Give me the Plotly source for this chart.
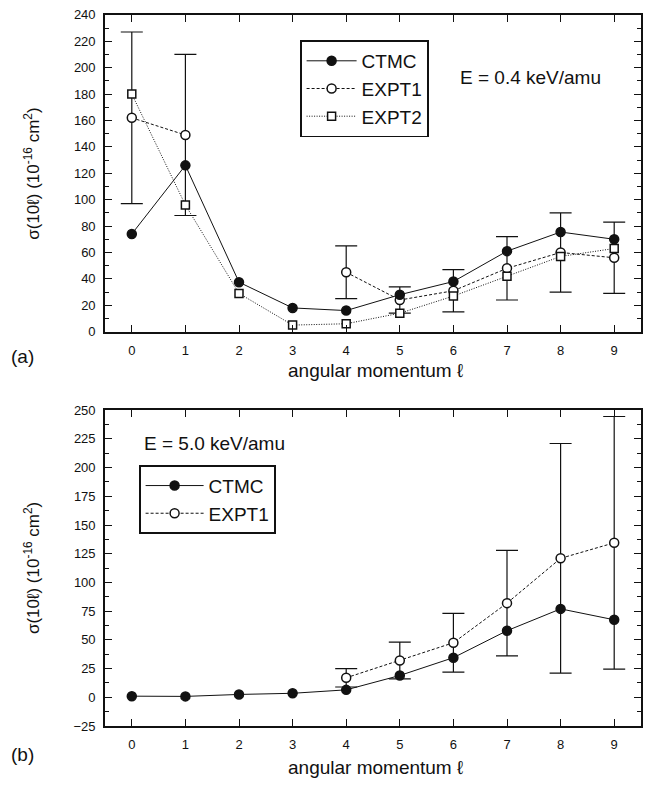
import plotly.graph_objects as go

# ---------------- data ----------------
L = [0, 1, 2, 3, 4, 5, 6, 7, 8, 9]

# panel (a) E = 0.4 keV/amu
a_ctmc = [74, 126, 37.5, 18, 16, 28, 38, 61, 75.5, 70]
a_expt1 = [162, 149, None, None, 45, 24, 31, 48, 60, 56]
a_expt1_err = [65, 61, None, None, 20, 10, 16, 24, 30, 27]
a_expt2 = [180, 96, 29, 5, 6, 14, 27, 42, 57, 63]

# panel (b) E = 5.0 keV/amu
b_ctmc = [1, 0.8, 2.5, 3.5, 6.5, 19, 34.5, 58, 77, 67.5]
b_expt1 = [None, None, None, None, 17, 32, 47.5, 82, 121, 134.5]
b_expt1_err = [None, None, None, None, 8, 16, 25.5, 46, 100, 110]

xticks = [0, 1, 2, 3, 4, 5, 6, 7, 8, 9]

FONT = "Liberation Sans, Arial, sans-serif"
BLACK = "#111111"

fig = go.Figure()

def add_series(x, y, name, xa, ya, legend, rank, dash, symbol, fill, size, err=None):
    kw = {}
    if err is not None:
        kw["error_y"] = dict(type="data", array=err, visible=True,
                             color=BLACK, thickness=1.2, width=11)
    fig.add_trace(go.Scatter(
        x=x, y=y, name=name, mode="lines+markers",
        xaxis=xa, yaxis=ya, legend=legend, legendrank=rank,
        connectgaps=False,
        line=dict(color=BLACK, width=1, dash=dash),
        marker=dict(symbol=symbol, size=size,
                    color=BLACK if fill else "white",
                    line=dict(color=BLACK, width=1.5)),
        **kw))

# panel (a)
add_series(L, a_expt1, "EXPT1", "x", "y", "legend", 2, "3px,2px", "circle", False, 9, a_expt1_err)
add_series(L, a_expt2, "EXPT2", "x", "y", "legend", 3, "1px,1.5px", "square", False, 8)
add_series(L, a_ctmc, "CTMC", "x", "y", "legend", 1, "solid", "circle", True, 9)

# panel (b)
add_series(L, b_expt1, "EXPT1", "x2", "y2", "legend2", 2, "3px,2px", "circle", False, 9, b_expt1_err)
add_series(L, b_ctmc, "CTMC", "x2", "y2", "legend2", 1, "solid", "circle", True, 9)

W, H = 652, 787
x0, x1 = 105 / W, 641 / W
a_top, a_bot = 8, 331
b_top, b_bot = 411, 733

axis_common = dict(showline=True, linecolor=BLACK, linewidth=1.6, mirror="ticks",
                   ticks="inside", tickcolor=BLACK, tickwidth=1.3,
                   showgrid=False, zeroline=False,
                   tickfont=dict(family=FONT, size=13, color=BLACK))

xa = dict(axis_common, domain=[x0, x1], range=[-0.5, 9.5], tickvals=xticks,
          ticklen=7, ticklabelstandoff=6)

leg_common = dict(xanchor="left", yanchor="top",
                  bordercolor=BLACK, borderwidth=1.6, bgcolor="white",
                  font=dict(family=FONT, size=19, color=BLACK),
                  traceorder="normal", tracegroupgap=0)

fig.update_layout(
    width=W, height=H,
    margin=dict(l=0, r=0, t=0, b=0),
    paper_bgcolor="white", plot_bgcolor="white",
    font=dict(family=FONT, color=BLACK),
    xaxis=dict(xa, anchor="y"),
    yaxis=dict(axis_common, anchor="x", domain=[1 - a_bot / H, 1 - a_top / H],
               range=[0, 240], dtick=20, tick0=0, ticklen=7, ticklabelstandoff=5,
               minor=dict(dtick=10, ticks="inside", ticklen=4, tickcolor=BLACK, tickwidth=1.2)),
    xaxis2=dict(xa, anchor="y2"),
    yaxis2=dict(axis_common, anchor="x2", domain=[1 - b_bot / H, 1 - b_top / H],
                range=[-25, 250], dtick=25, tick0=0, ticklen=7, ticklabelstandoff=5,
                minor=dict(dtick=12.5, ticks="inside", ticklen=4, tickcolor=BLACK, tickwidth=1.2)),
    legend=dict(leg_common, x=300 / W, y=1 - 34 / H, itemwidth=50),
    legend2=dict(leg_common, x=139 / W, y=1 - 467 / H, itemwidth=58),
)

ytitle = "σ(10ℓ) (10<sup>-16</sup> cm<sup>2</sup>)"
ann = [
    dict(text="E = 0.4 keV/amu", x=458 / W, y=1 - 72 / H, xanchor="left", yanchor="middle",
         font=dict(size=19)),
    dict(text="E = 5.0 keV/amu", x=142 / W, y=1 - 445 / H, xanchor="left", yanchor="middle",
         font=dict(size=19)),
    dict(text=ytitle, x=32 / W, y=1 - 170 / H, textangle=-90, xanchor="center", yanchor="middle",
         font=dict(size=17)),
    dict(text=ytitle, x=32 / W, y=1 - 572 / H, textangle=-90, xanchor="center", yanchor="middle",
         font=dict(size=17)),
    dict(text="angular momentum ℓ", x=375 / W, y=1 - 371 / H, xanchor="center", yanchor="middle",
         font=dict(size=19)),
    dict(text="angular momentum ℓ", x=375 / W, y=1 - 775 / H, xanchor="center", yanchor="middle",
         font=dict(size=19)),
    dict(text="(a)", x=9 / W, y=1 - 356 / H, xanchor="left", yanchor="middle",
         font=dict(size=19)),
    dict(text="(b)", x=9 / W, y=1 - 762 / H, xanchor="left", yanchor="middle",
         font=dict(size=19)),
]
for a in ann:
    a.update(xref="paper", yref="paper", showarrow=False)
    a["font"] = dict(family=FONT, color=BLACK, **a["font"])
fig.update_layout(annotations=ann)

fig.write_html("out.html")
